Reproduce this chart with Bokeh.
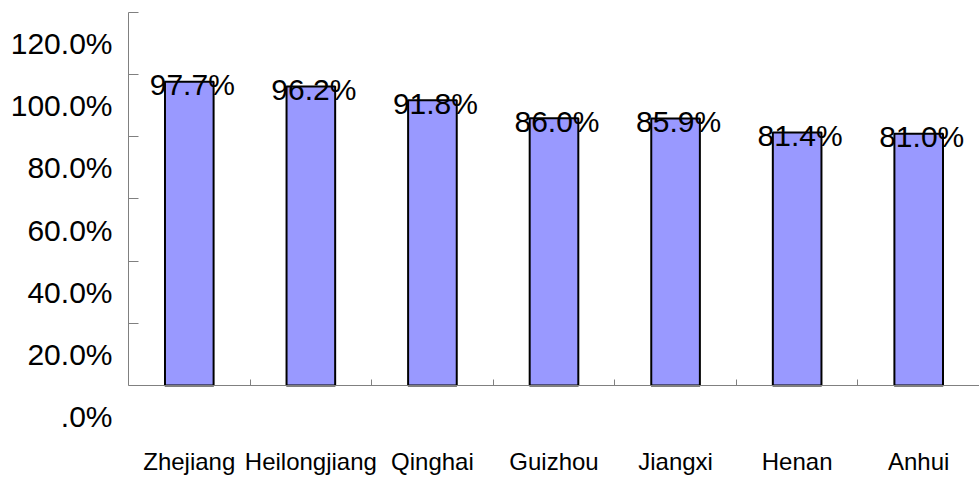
from bokeh.plotting import figure
from bokeh.models import Range1d, LinearAxis, FixedTicker, ColumnDataSource
from bokeh.core.properties import value
from bokeh.embed import file_html
from bokeh.resources import INLINE

categories = ["Zhejiang", "Heilongjiang", "Qinghai", "Guizhou", "Jiangxi", "Henan", "Anhui"]
values = [97.7, 96.2, 91.8, 86.0, 85.9, 81.4, 81.0]
value_labels = ["97.7%", "96.2%", "91.8%", "86.0%", "85.9%", "81.4%", "81.0%"]
y_ticks = [0, 20, 40, 60, 80, 100, 120]
y_tick_labels = [".0%", "20.0%", "40.0%", "60.0%", "80.0%", "100.0%", "120.0%"]

FONT_NAME = "Liberation Sans"
FONT = value(FONT_NAME)
GRAY = "#808080"

n = len(categories)
centers = [i + 0.5 for i in range(n)]
boundaries = list(range(1, n))
half_step = (y_ticks[1] - y_ticks[0]) / 2
src = ColumnDataSource(dict(x=centers, val=values, lbl=value_labels))

p = figure(x_range=Range1d(0, n), y_range=Range1d(y_ticks[0] - half_step, y_ticks[-1]),
           width=979, height=477, output_backend="svg", toolbar_location=None,
           x_axis_location="below", y_axis_location="left",
           min_border_left=128, min_border_right=0, min_border_top=12, min_border_bottom=59)
p.grid.visible = False
p.outline_line_color = None
p.background_fill_color = "white"

# labels for y ticks, placed half a step below each tick
p.extra_y_ranges = {"lab": Range1d(y_ticks[0], y_ticks[-1] + half_step)}

p.vbar(x="x", top="val", bottom=0, width=0.4, source=src, fill_color="#9999FF",
       line_color="black", line_width=2)
p.text(x="x", y="val", text="lbl", source=src, text_align="center",
       text_baseline="middle", text_font=FONT, text_font_size="30px",
       text_color="black", x_offset=3, y_offset=3)

# y axis (ticks only)
ya = p.yaxis[0]
ya.ticker = FixedTicker(ticks=y_ticks)
ya.bounds = (y_ticks[0], y_ticks[-1])
ya.major_tick_in = 10
ya.major_tick_out = 0
ya.minor_tick_line_color = None
ya.major_label_overrides = {t: "" for t in y_ticks}
ya.major_label_standoff = 0
ya.axis_line_color = GRAY
ya.major_tick_line_color = GRAY

ylab = LinearAxis(y_range_name="lab", ticker=FixedTicker(ticks=y_ticks),
                  major_label_overrides={t: s for t, s in zip(y_ticks, y_tick_labels)},
                  axis_line_color=None, major_tick_line_color=None, minor_tick_line_color=None,
                  major_label_text_font=FONT_NAME, major_label_text_font_size="30px",
                  major_label_text_color="black", major_label_standoff=10)
p.add_layout(ylab, "left")

# x axis at y=0 with ticks at category boundaries
xa = p.xaxis[0]
xa.fixed_location = 0
xa.ticker = FixedTicker(ticks=boundaries)
xa.major_tick_in = 6
xa.major_tick_out = 0
xa.minor_tick_line_color = None
xa.major_label_overrides = {t: "" for t in boundaries}
xa.major_label_standoff = 0
xa.axis_line_color = GRAY
xa.major_tick_line_color = GRAY

# category labels
cat_axis = LinearAxis(ticker=FixedTicker(ticks=centers),
                      major_label_overrides={c: name for c, name in zip(centers, categories)},
                      axis_line_color=None, major_tick_line_color=None,
                      minor_tick_line_color=None,
                      major_label_text_font=FONT_NAME, major_label_text_font_size="24px",
                      major_label_text_color="black", major_label_standoff=25)
p.add_layout(cat_axis, "below")

open("out.html", "w").write(file_html(p, INLINE))
